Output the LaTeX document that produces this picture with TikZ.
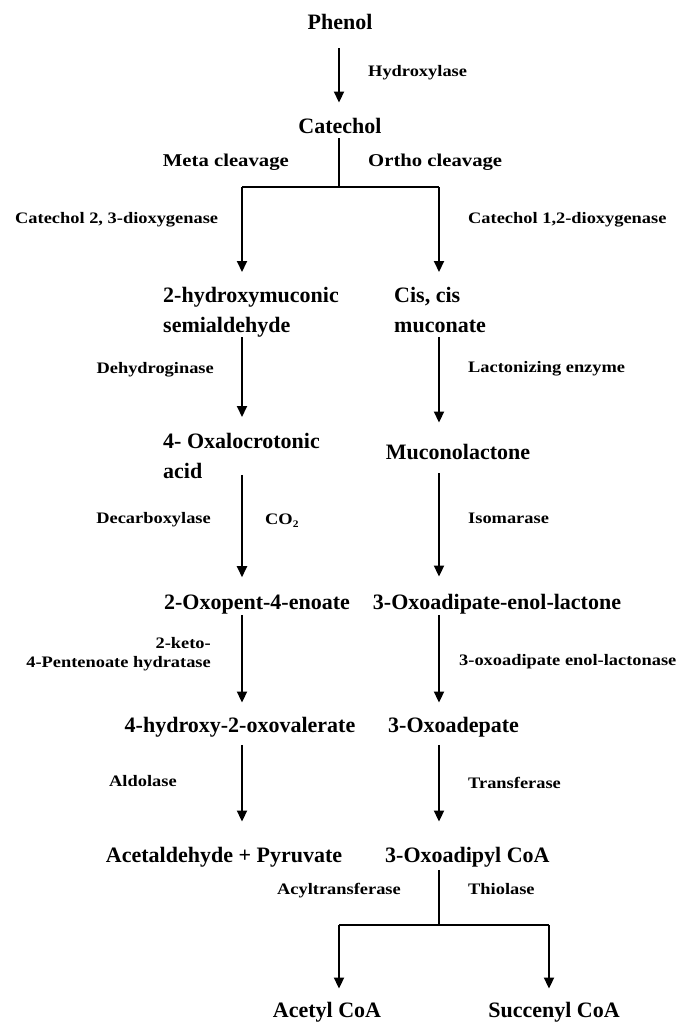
\documentclass[tikz,border=0pt]{standalone}
\usepackage{fontspec}
\setmainfont{Liberation Serif}
\newfontfamily\enzfont[FakeStretch=1.15]{Liberation Serif}
\usetikzlibrary{arrows.meta}
\tikzset{
  comp/.style={font=\fontsize{22}{30}\selectfont\bfseries, inner sep=0pt},
  enz/.style={font=\enzfont\fontsize{16}{19}\selectfont\bfseries, inner sep=0pt},
  cleav/.style={font=\enzfont\fontsize{18}{21}\selectfont\bfseries, inner sep=0pt},
  ln/.style={line width=2pt},
  arr/.style={line width=2pt, -{Triangle[length=11pt,width=10pt]}},
}
\begin{document}
\begin{tikzpicture}[x=1pt,y=-1pt]
\path[use as bounding box] (0,0) rectangle (688,1022);
% column coordinates
\coordinate (colL) at (242,0);
\coordinate (colR) at (439,0);
\coordinate (colM) at (339,0);
\coordinate (split) at (339,187);
\coordinate (bl) at (242,187);
\coordinate (br) at (439,187);
\coordinate (split2) at (439,925);
\coordinate (bl2) at (339,925);
\coordinate (br2) at (549,925);

% compounds
\node[comp, anchor=base] (phenol) at (340,30) {Phenol};
\node[comp, anchor=base] (catechol) at (340,133) {Catechol};
\node[comp, anchor=north west, align=left] (hms) at (163,287) {2-hydroxymuconic\\semialdehyde};
\node[comp, anchor=north west, align=left] (ccm) at (394,287) {Cis, cis\\muconate};
\node[comp, anchor=north west, align=left] (oxa) at (163,433) {4- Oxalocrotonic\\acid};
\node[comp, anchor=base] (mucl) at (458,459) {Muconolactone};
\node[comp, anchor=base] (oxop) at (257,609) {2-Oxopent-4-enoate};
\node[comp, anchor=base] (oxel) at (497,609) {3-Oxoadipate-enol-lactone};
\node[comp, anchor=base] (hov) at (240,732) {4-hydroxy-2-oxovalerate};
\node[comp, anchor=base west] (oxad) at (388,732) {3-Oxoadepate};
\node[comp, anchor=base] (acpy) at (224,862) {Acetaldehyde + Pyruvate};
\node[comp, anchor=base west] (oxcoa) at (385,862) {3-Oxoadipyl CoA};
\node[comp, anchor=base] (acoa) at (327,1017) {Acetyl CoA};
\node[comp, anchor=base] (scoa) at (554,1017) {Succenyl CoA};

% enzymes / labels
\node[enz, anchor=base west] (hydrox) at (368,77) {Hydroxylase};
\node[cleav, anchor=base east] (meta) at (289,166) {Meta cleavage};
\node[cleav, anchor=base west] (ortho) at (368,166) {Ortho cleavage};
\node[enz, anchor=base west] (c23) at (15,223) {Catechol 2, 3-dioxygenase};
\node[enz, anchor=base west] (c12) at (468,223) {Catechol 1,2-dioxygenase};
\node[enz, anchor=base east] (dehyd) at (214,373) {Dehydroginase};
\node[enz, anchor=base west] (lact) at (468,372) {Lactonizing enzyme};
\node[enz, anchor=base east] (decarb) at (211,523) {Decarboxylase};
\node[enz, anchor=base west] (co2) at (265,524) {CO\raisebox{-3pt}{\fontsize{10}{10}\selectfont 2}};
\node[enz, anchor=base west] (isom) at (468,523) {Isomarase};
\node[enz, anchor=north east, align=right] (keto) at (211,637) {2-keto-\\4-Pentenoate hydratase};
\node[enz, anchor=base west] (lactonase) at (459,665) {3-oxoadipate enol-lactonase};
\node[enz, anchor=base west] (aldol) at (109,786) {Aldolase};
\node[enz, anchor=base west] (transf) at (468,788) {Transferase};
\node[enz, anchor=base east] (acyl) at (401,894) {Acyltransferase};
\node[enz, anchor=base west] (thiol) at (468,894) {Thiolase};

% connectors
\draw[arr, shorten <=18pt, shorten >=15pt] (phenol.south -| colM) -- (catechol.north -| colM);
\draw[ln, shorten <=5pt] (catechol.south -| colM) -- (split);
\draw[ln] (bl) -- (br);
\draw[arr, shorten >=15pt] (bl) -- (hms.north -| colL);
\draw[arr, shorten >=15pt] (br) -- (ccm.north -| colR);

\draw[arr, shorten >=16pt] (hms.south -| colL) -- (oxa.north -| colL);
\draw[arr, shorten <=4pt, shorten >=21pt] (ccm.south -| colR) -- (mucl.north -| colR);

\draw[arr, shorten <=-4pt, shorten >=17pt] (oxa.south -| colL) -- (oxop.north -| colL);
\draw[arr, shorten <=14pt, shorten >=17pt] (mucl.south -| colR) -- (oxel.north -| colR);

\draw[arr, shorten <=1pt, shorten >=14pt] (oxop.south -| colL) -- (hov.north -| colL);
\draw[arr, shorten <=1pt, shorten >=14pt] (oxel.south -| colR) -- (oxad.north -| colR);

\draw[arr, shorten <=8pt, shorten >=25pt] (hov.south -| colL) -- (acpy.north -| colL);
\draw[arr, shorten <=8pt, shorten >=25pt] (oxad.south -| colR) -- (oxcoa.north -| colR);

\draw[ln, shorten <=3pt] (oxcoa.south -| colR) -- (split2);
\draw[ln] (bl2) -- (br2);
\draw[arr, shorten >=13pt] (bl2) -- (acoa.north -| bl2);
\draw[arr, shorten >=13pt] (br2) -- (scoa.north -| br2);
\end{tikzpicture}
\end{document}
